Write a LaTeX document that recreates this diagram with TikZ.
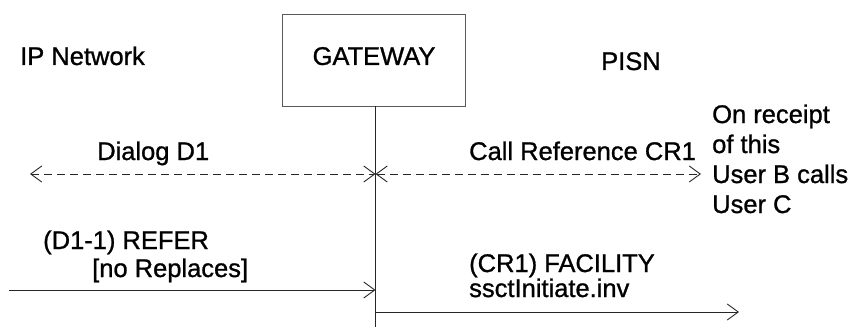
\documentclass[tikz,border=0pt]{standalone}
\usepackage{fontspec}
\setmainfont{Liberation Sans}
\newfontfamily\lblfont{Liberation Sans}[FakeBold=1.0]
\usetikzlibrary{arrows.meta}
\begin{document}
\begin{tikzpicture}[x=1pt,y=-1pt,
  lbl/.style={anchor=base west,inner sep=0pt,font=\lblfont\fontsize{25.5}{30}\selectfont},
  msg/.style={line width=0.9pt,draw=black!85,-{Straight Barb[length=11pt,width=16pt,line width=0.9pt]}},
  dmsg/.style={line width=0.9pt,draw=black!85,dash pattern=on 8pt off 5pt,
    {Straight Barb[length=11pt,width=16pt,line width=0.9pt]}-{Straight Barb[length=11pt,width=16pt,line width=0.9pt]}},
  boxst/.style={draw=black!65,line width=0.9pt,minimum width=183pt,minimum height=92pt,inner sep=0pt,
    font=\lblfont\fontsize{25.5}{30}\selectfont,text depth=8pt}]
\useasboundingbox (0,0) rectangle (852,329);
% header
\node[lbl] (ipn) at (20,65) {IP Network};
\node[boxst] (gw) at (374,60) {GATEWAY};
\node[lbl] (pisn) at (601,70) {PISN};
% lifeline
\coordinate (lb) at (375.5,327);
\draw[line width=0.9pt,black!85] (gw.south -| lb) -- (lb);
% dialogs
\coordinate (d1l) at (30,174);
\coordinate (mid) at (375.5,174);
\coordinate (cr1r) at (701,174);
\draw[dmsg] (d1l) -- (mid);
\draw[dmsg] (mid) -- (cr1r);
\node[lbl] (dlg) at (97,160) {Dialog D1};
\node[lbl] (crf) at (469,160) {Call Reference CR1};
\node[lbl] (n1) at (712,123) {On receipt};
\node[lbl] (n2) at (712,153) {of this};
\node[lbl] (n3) at (712,183) {User B calls};
\node[lbl] (n4) at (712,213) {User C};
% REFER
\coordinate (refl) at (9,290);
\coordinate (refr) at (375.5,290);
\draw[msg] (refl) -- (refr);
\node[lbl] (r1) at (43,249) {(D1-1) REFER};
\node[lbl] (r2) at (92,277) {[no Replaces]};
% FACILITY
\coordinate (facl) at (375.5,312);
\coordinate (facr) at (739,312);
\draw[msg] (facl) -- (facr);
\node[lbl] (f1) at (469,272) {(CR1) FACILITY};
\node[lbl] (f2) at (469,297) {ssctInitiate.inv};
\end{tikzpicture}
\end{document}
